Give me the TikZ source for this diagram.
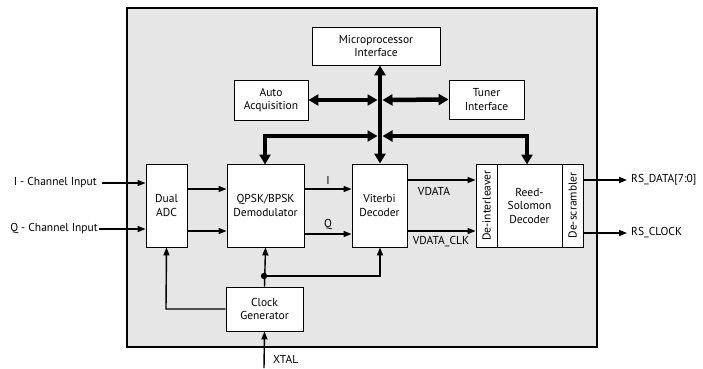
\documentclass[tikz,border=0pt]{standalone}
\usepackage{fontspec}
\setmainfont{PT Sans}
\usetikzlibrary{arrows.meta}
\definecolor{chipgray}{HTML}{E6E6E6}
\tikzset{
  blk/.style={draw, fill=white, line width=0.9pt, align=center, inner sep=0pt, font=\fontsize{11.5}{13.5}\selectfont},
  sig/.style={line width=1.4pt, -{Triangle[length=8pt,width=6pt]}},
  bus/.style={line width=4.5pt, {Triangle[length=10pt,width=11pt]}-{Triangle[length=10pt,width=11pt]}},
  lbl/.style={font=\fontsize{11.5}{13.5}\selectfont, inner sep=1pt}
}
\begin{document}
\begin{tikzpicture}[x=1pt,y=-1pt]
\useasboundingbox (0,0) rectangle (703,368);
\node[draw, line width=2pt, fill=chipgray, minimum width=470pt, minimum height=339pt, inner sep=0pt] (chip) at (362,177.5) {};
\node[blk, minimum width=128pt, minimum height=38pt] (mpi) at (376,46) {Microprocessor\\Interface};
\node[blk, minimum width=74pt, minimum height=40pt] (aa) at (271,100) {Auto\\Acquisition};
\node[blk, minimum width=75pt, minimum height=39pt] (ti) at (486.5,99.5) {Tuner\\Interface};
\node[blk, minimum width=41pt, minimum height=83pt] (adc) at (166.5,205.5) {Dual\\ADC};
\node[blk, minimum width=77pt, minimum height=83pt] (dem) at (265.5,205.5) {QPSK/BPSK\\Demodulator};
\node[blk, minimum width=55pt, minimum height=83pt] (vit) at (379.5,205.5) {Viterbi\\Decoder};
\node[blk, minimum width=21pt, minimum height=83pt] (dil) at (486.5,205.5) {\rotatebox{90}{De-interleaver}};
\node[blk, minimum width=65pt, minimum height=83pt] (rs) at (529.5,205.5) {Reed-\\Solomon\\Decoder};
\node[blk, minimum width=21pt, minimum height=83pt] (dsc) at (572.5,205.5) {\rotatebox{90}{De-scrambler}};
\node[blk, minimum width=77pt, minimum height=44pt] (clk) at (264.5,309) {Clock\\Generator};
% bus
\coordinate (busx) at (380,0);
\draw[bus] (mpi.south -| busx) -- (vit.north -| busx);
\draw[bus] (aa.east) -- (377.5,100);
\draw[bus] (382.5,100) -- (ti.west);
\draw[bus] (377.5,136) -- (265,136) -- (265,164.5);
\draw[bus] (382.5,136) -- (527,136) -- (527,164.5);
% inputs
\node[lbl, anchor=east] (iin) at (98,183) {I - Channel Input};
\node[lbl, anchor=east] (qin) at (99,229) {Q - Channel Input};
\draw[sig] (iin.east) ++(4,0) -- (iin.east -| adc.west);
\draw[sig] (qin.east) -- (qin.east -| adc.west);
\draw[sig] (adc.east |- 0,189) -- (dem.west |- 0,189);
\draw[sig] (adc.east |- 0,231) -- (dem.west |- 0,231);
\draw[sig] (dem.east |- 0,189) -- node[lbl, above=3pt] (il) {I} (vit.west |- 0,189);
\draw[sig] (dem.east |- 0,234) -- node[lbl, above=3pt] (ql) {Q} (vit.west |- 0,234);
\draw[sig] (vit.east |- 0,180) -- (dil.west |- 0,180);
\draw[sig] (vit.east |- 0,231) -- (dil.west |- 0,231);
\node[lbl] (vd) at (434,191) {VDATA};
\node[lbl] (vdc) at (441,242) {VDATA\_CLK};
\coordinate (o1) at (627,180);
\coordinate (o2) at (627,233);
\draw[sig] (dsc.east |- o1) -- (o1);
\draw[sig] (dsc.east |- o2) -- (o2);
\node[lbl, anchor=west] (rsd) at (630,180) {RS\_DATA[7:0]};
\node[lbl, anchor=west] (rsc) at (630,233) {RS\_CLOCK};
% clock
\coordinate (dot) at (264,276);
\draw[sig] (clk.north) -- (dem.south);
\fill (dot) circle (3.2pt);
\draw[sig] (dot) -- (380,276) -- (vit.south -| busx);
\draw[sig] (clk.west) -- (166,309) -- (adc.south);
\coordinate (xt) at (264,368);
\draw[sig] (xt) -- (clk.south);
\node[lbl, anchor=west] (xtal) at (272,359) {XTAL};
\end{tikzpicture}
\end{document}
